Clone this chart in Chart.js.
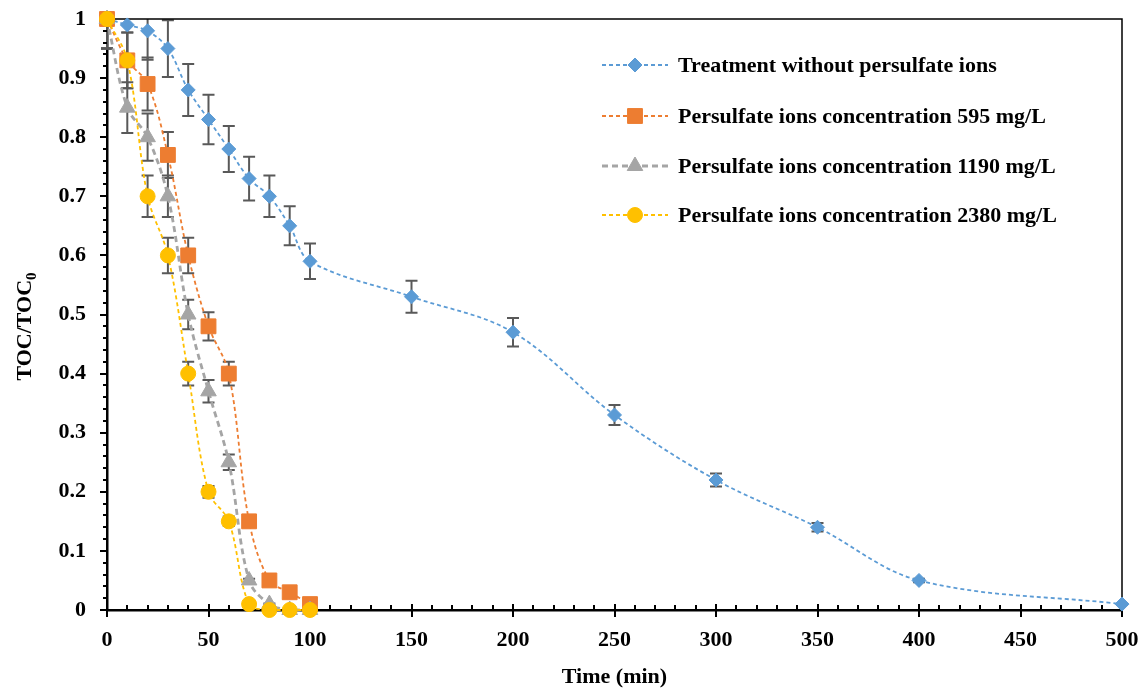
<!DOCTYPE html>
<html>
<head>
<meta charset="utf-8">
<script src="https://cdn.jsdelivr.net/npm/chart.js@4.4.1/dist/chart.umd.min.js"></script>
<style>
  html, body { margin: 0; padding: 0; background: #fff; }
  #wrap { width: 1148px; height: 691px; position: relative; }
</style>
</head>
<body>
<div id="wrap"><canvas id="myChart" width="1148" height="691"></canvas></div>
<script>
// time axis (min)
const timeNoPs = [0, 10, 20, 30, 40, 50, 60, 70, 80, 90, 100, 150, 200, 250, 300, 350, 400, 500];
const timePs = [0, 10, 20, 30, 40, 50, 60, 70, 80, 90, 100];

// TOC/TOC0 values
const tocNoPs = [1, 0.99, 0.98, 0.95, 0.88, 0.83, 0.78, 0.73, 0.70, 0.65, 0.59, 0.53, 0.47, 0.33, 0.22, 0.14, 0.05, 0.01];
const toc595 = [1, 0.93, 0.89, 0.77, 0.60, 0.48, 0.40, 0.15, 0.05, 0.03, 0.01];
const toc1190 = [1, 0.85, 0.80, 0.70, 0.50, 0.37, 0.25, 0.05, 0.01, 0, 0];
const toc2380 = [1, 0.93, 0.70, 0.60, 0.40, 0.20, 0.15, 0.01, 0, 0, 0];

// error bar half-heights
const errNoPs = [0.05, 0.05, 0.049, 0.048, 0.044, 0.042, 0.039, 0.037, 0.035, 0.033, 0.03, 0.027, 0.024, 0.017, 0.011, 0.007, 0.003, 0.001];
const err595 = [0.05, 0.047, 0.045, 0.039, 0.03, 0.024, 0.02, 0.008, 0.003, 0.002, 0.001];
const err1190 = [0.05, 0.043, 0.04, 0.035, 0.025, 0.019, 0.013, 0.003, 0.001, 0, 0];
const err2380 = [0.05, 0.047, 0.035, 0.03, 0.02, 0.01, 0.008, 0.001, 0, 0, 0];

const seriesLabels = [
    'Treatment without persulfate ions',
    'Persulfate ions concentration 595 mg/L',
    'Persulfate ions concentration 1190 mg/L',
    'Persulfate ions concentration 2380 mg/L'
];

const xTicks = [0, 50, 100, 150, 200, 250, 300, 350, 400, 450, 500];
const yTicks = [0, 0.1, 0.2, 0.3, 0.4, 0.5, 0.6, 0.7, 0.8, 0.9, 1];

const FONT = "'Liberation Serif', 'Times New Roman', serif";

function pts(xs, ys, errs) {
    return xs.map((x, i) => ({ x: x, y: ys[i], err: errs[i] }));
}

function makeSet(label, xs, ys, errs, color, style, radius, width, dash, order) {
    return {
        label: label,
        data: pts(xs, ys, errs),
        borderColor: color,
        backgroundColor: color,
        borderWidth: width,
        borderDash: dash,
        pointStyle: style,
        pointRadius: radius,
        pointHoverRadius: radius,
        pointBorderWidth: 1,
        tension: 0.35,
        clip: false,
        showLine: true,
        order: order
    };
}

// later series sit on top, like the original
const datasets = [
    makeSet(seriesLabels[0], timeNoPs, tocNoPs, errNoPs, '#5B9BD5', 'rectRot', 7, 1.8, [4, 3], 3),
    makeSet(seriesLabels[1], timePs, toc595, err595, '#ED7D31', 'rect', 10.5, 1.8, [4, 3], 2),
    makeSet(seriesLabels[2], timePs, toc1190, err1190, '#A5A5A5', 'triangle', 9, 2.8, [6, 4], 1),
    makeSet(seriesLabels[3], timePs, toc2380, err2380, '#FFC000', 'circle', 7.5, 1.8, [4, 3], 0)
];

// error bars, drawn under the markers
const errorBars = {
    id: 'errorBars',
    beforeDatasetsDraw(chart) {
        const ctx = chart.ctx;
        const xs = chart.scales.x, ys = chart.scales.y;
        const area = chart.chartArea;
        ctx.save();
        ctx.beginPath();
        ctx.rect(area.left - 10, area.top, area.right - area.left + 20, area.bottom - area.top + 10);
        ctx.clip();
        ctx.strokeStyle = '#595959';
        ctx.lineWidth = 2;
        chart.data.datasets.forEach(ds => {
            ds.data.forEach(p => {
                if (!p.err) return;
                const px = xs.getPixelForValue(p.x);
                const top = ys.getPixelForValue(p.y + p.err);
                const bot = ys.getPixelForValue(p.y - p.err);
                if (bot - top < 1) return;
                ctx.beginPath();
                ctx.moveTo(px, top); ctx.lineTo(px, bot);
                ctx.moveTo(px - 6, top); ctx.lineTo(px + 6, top);
                ctx.moveTo(px - 6, bot); ctx.lineTo(px + 6, bot);
                ctx.stroke();
            });
        });
        ctx.restore();
    }
};

// frame, tick marks, axis title with subscript, legend
const decorations = {
    id: 'decorations',
    beforeDatasetsDraw(chart) {
        const ctx = chart.ctx;
        const xs = chart.scales.x, ys = chart.scales.y;
        const a = chart.chartArea;
        ctx.save();
        ctx.strokeStyle = '#000';
        // top and right frame
        ctx.lineWidth = 1.5;
        ctx.beginPath();
        ctx.moveTo(a.left, a.top); ctx.lineTo(a.right, a.top); ctx.lineTo(a.right, a.bottom);
        ctx.stroke();
        // x ticks
        ctx.lineWidth = 2;
        ctx.beginPath();
        for (let v = 0; v <= 500; v += 10) {
            const px = Math.round(xs.getPixelForValue(v));
            if (v % 50 === 0) {
                ctx.moveTo(px, a.bottom - 6); ctx.lineTo(px, a.bottom + 7);
            } else {
                ctx.moveTo(px, a.bottom - 5); ctx.lineTo(px, a.bottom);
            }
        }
        // y ticks
        for (let i = 0; i <= 50; i++) {
            const py = Math.round(ys.getPixelForValue(i * 0.02));
            if (i % 5 === 0) {
                ctx.moveTo(a.left - 7, py); ctx.lineTo(a.left, py);
            } else {
                ctx.moveTo(a.left - 4, py); ctx.lineTo(a.left, py);
            }
        }
        ctx.stroke();
        ctx.restore();
    },
    afterDraw(chart) {
        const ctx = chart.ctx;
        const a = chart.chartArea;
        ctx.save();
        // y title TOC/TOC0
        ctx.fillStyle = '#000';
        ctx.textBaseline = 'alphabetic';
        ctx.textAlign = 'left';
        const main = 'TOC/TOC';
        ctx.font = 'bold 22px ' + FONT;
        const w1 = ctx.measureText(main).width;
        ctx.font = 'bold 15px ' + FONT;
        const w2 = ctx.measureText('0').width;
        ctx.translate(31, (a.top + a.bottom) / 2 + 12);
        ctx.rotate(-Math.PI / 2);
        const start = -(w1 + w2) / 2;
        ctx.font = 'bold 22px ' + FONT;
        ctx.fillText(main, start, 0);
        ctx.font = 'bold 15px ' + FONT;
        ctx.fillText('0', start + w1, 5);
        ctx.restore();

        // legend
        ctx.save();
        const rows = [65, 116, 166, 215];
        chart.data.datasets.forEach((ds, i) => {
            const y = rows[i];
            ctx.strokeStyle = ds.borderColor;
            ctx.lineWidth = ds.borderWidth;
            ctx.setLineDash(ds.borderDash);
            ctx.beginPath();
            ctx.moveTo(602, y); ctx.lineTo(668, y);
            ctx.stroke();
            ctx.setLineDash([]);
            ctx.fillStyle = ds.backgroundColor;
            ctx.strokeStyle = ds.borderColor;
            ctx.lineWidth = 1;
            Chart.helpers.drawPoint(ctx, {
                pointStyle: ds.pointStyle,
                radius: ds.pointRadius,
                rotation: 0,
                borderWidth: 1
            }, 635, y);
            ctx.fillStyle = '#000';
            ctx.font = 'bold 22px ' + FONT;
            ctx.textBaseline = 'middle';
            ctx.textAlign = 'left';
            ctx.fillText(ds.label, 678, y + 1);
        });
        ctx.restore();
    }
};

const config = {
    type: 'line',
    data: { datasets: datasets },
    options: {
        responsive: false,
        animation: false,
        layout: { padding: { left: 0, top: 19, right: 26, bottom: 0 } },
        plugins: {
            legend: { display: false },
            tooltip: { enabled: false }
        },
        scales: {
            x: {
                type: 'linear',
                min: 0,
                max: 500,
                afterFit: s => {
                    s.height = 81;
                    s.paddingLeft = 0; s.paddingRight = 0;
                },
                afterBuildTicks: s => { s.ticks = xTicks.map(v => ({ value: v })); },
                grid: { display: false, drawTicks: false },
                border: { display: true, color: '#000', width: 2.5 },
                ticks: {
                    color: '#000',
                    padding: 17,
                    maxRotation: 0,
                    font: { family: FONT, size: 22, weight: 'bold' }
                },
                title: {
                    display: true,
                    text: 'Time (min)',
                    color: '#000',
                    padding: { top: 0, bottom: 0 },
                    font: { family: FONT, size: 22, weight: 'bold' }
                }
            },
            y: {
                type: 'linear',
                min: 0,
                max: 1,
                afterFit: s => {
                    s.width = 107;
                    s.paddingTop = 0; s.paddingBottom = 0;
                },
                afterBuildTicks: s => { s.ticks = yTicks.map(v => ({ value: v })); },
                grid: { display: false, drawTicks: false },
                border: { display: true, color: '#000', width: 2.5 },
                ticks: {
                    color: '#000',
                    padding: 21,
                    callback: v => String(Math.round(v * 10) / 10),
                    font: { family: FONT, size: 22, weight: 'bold' }
                }
            }
        }
    },
    plugins: [errorBars, decorations]
};

const myChart = new Chart(document.getElementById('myChart'), config);
</script>
</body>
</html>
